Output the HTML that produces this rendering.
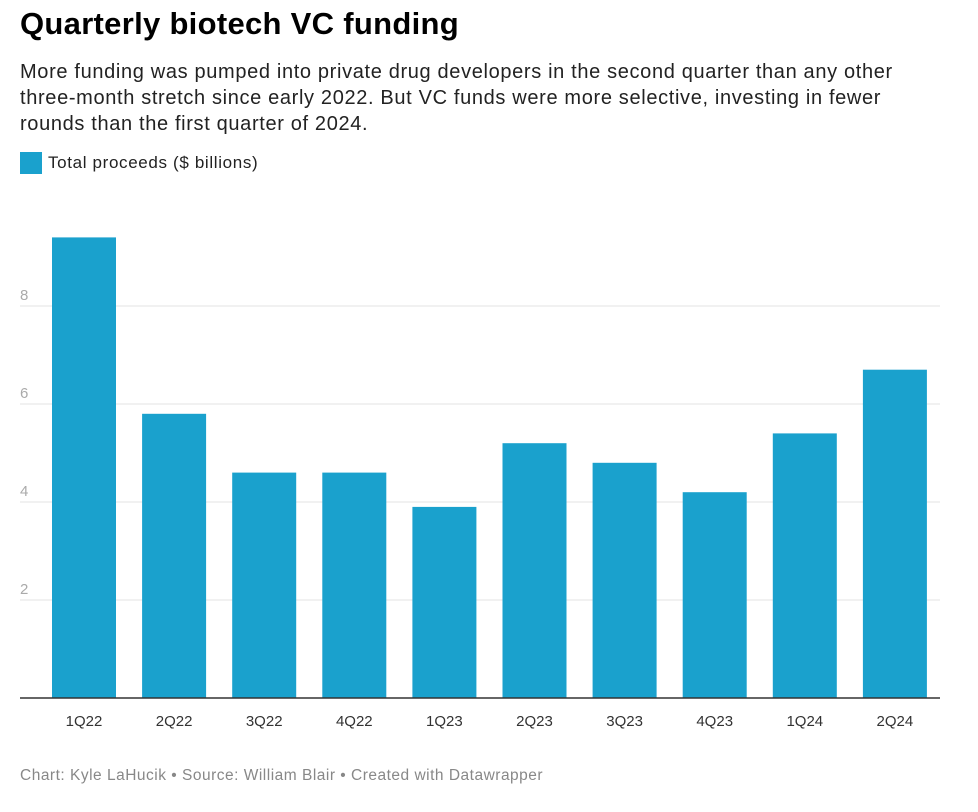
<!DOCTYPE html>
<html><head><meta charset="utf-8">
<style>
body{margin:0;background:#fff;font-family:"Liberation Sans",sans-serif;width:978px;height:812px;overflow:hidden;position:relative}
#title{position:absolute;left:20px;top:6px;font-size:31px;font-weight:bold;color:#000;letter-spacing:0.3px}
#sub{position:absolute;left:20px;top:59px;width:950px;font-size:20px;line-height:26px;color:#222;letter-spacing:0.65px;white-space:nowrap}
#legend{position:absolute;left:20px;top:152px;font-size:17px;color:#222;display:flex;align-items:center;letter-spacing:0.65px}
#legend span.sw{display:inline-block;width:22px;height:22px;background:#1aa1cd;margin-right:6px}
#foot{position:absolute;left:20px;top:767px;font-size:15.5px;color:#888;letter-spacing:0.5px}
svg{position:absolute;left:0;top:0}
</style></head><body>
<div id="title">Quarterly biotech VC funding</div>
<div id="sub">More funding was pumped into private drug developers in the second quarter than any other<br>three‑month stretch since early 2022. But VC funds were more selective, investing in fewer<br>rounds than the first quarter of 2024.</div>
<div id="legend"><span class="sw"></span>Total proceeds ($ billions)</div>
<svg id="chart" width="978" height="812"></svg>
<div id="foot">Chart: Kyle LaHucik • Source: William Blair • Created with Datawrapper</div>
<script>
const categories=["1Q22","2Q22","3Q22","4Q22","1Q23","2Q23","3Q23","4Q23","1Q24","2Q24"];
const values=[9.4,5.8,4.6,4.6,3.9,5.2,4.8,4.2,5.4,6.7];
const yTicks=[2,4,6,8];
const svg=document.getElementById('chart');
const NS='http://www.w3.org/2000/svg';
const y=v=>698-v*49;
const x=i=>52+i*90.1;
const bw=64;
function mk(t,a){const e=document.createElementNS(NS,t);for(const k in a)e.setAttribute(k,a[k]);svg.appendChild(e);return e;}
yTicks.forEach(t=>{
  const l=mk('line',{x1:20,x2:940,y1:y(t),y2:y(t),stroke:'#e3e3e3','stroke-width':1});
  
  
  const tx=mk('text',{x:20,y:y(t)-6,'font-size':15,fill:'#aaa','font-family':'Liberation Sans, sans-serif'});
  tx.textContent=t;
  
  
});
values.forEach((v,i)=>{
  const r=mk('rect',{x:x(i),y:y(v),width:bw,height:698-y(v),fill:'#1aa1cd'});
  
  
  const tx=mk('text',{x:x(i)+bw/2,y:726,'font-size':15,fill:'#333','text-anchor':'middle','font-family':'Liberation Sans, sans-serif'});
  tx.textContent=categories[i];
  
  
});
const b=mk('line',{x1:20,x2:940,y1:698,y2:698,stroke:'#333','stroke-width':1.5});


</script>
</body></html>
